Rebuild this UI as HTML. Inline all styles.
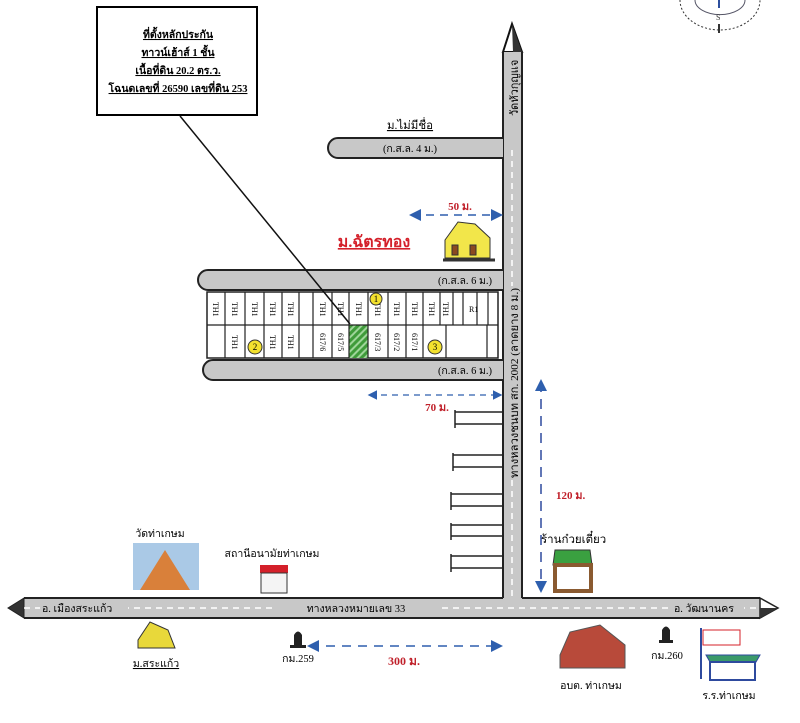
<!DOCTYPE html>
<html><head><meta charset="utf-8"><style>
html,body{margin:0;padding:0;background:#fff;}
svg{display:block;}
text{font-family:"Liberation Serif","Noto Serif CJK SC",serif;}
</style></head><body>
<svg width="800" height="723" viewBox="0 0 800 723" xmlns="http://www.w3.org/2000/svg">
<defs>
<pattern id="h" width="5" height="5" patternUnits="userSpaceOnUse" patternTransform="rotate(45)">
<rect width="5" height="5" fill="#3f9b3a"/><rect width="2" height="5" fill="#9fd59a"/></pattern>
<marker id="ab" markerWidth="8" markerHeight="8" refX="6" refY="4" orient="auto"><path d="M0,0 L8,4 L0,8 z" fill="#2e5fae"/></marker>
<marker id="as" markerWidth="8" markerHeight="8" refX="2" refY="4" orient="auto"><path d="M8,0 L0,4 L8,8 z" fill="#2e5fae"/></marker>
</defs>
<g stroke="#333" fill="none">
<path d="M680,0 A40,30 0 0 0 760,0" stroke-dasharray="2,2"/>
<path d="M695,0 A24,14 0 0 0 745,0" stroke="#556"/>
<line x1="719" y1="0" x2="719" y2="8" stroke="#2d4f9e" stroke-width="2"/>
<line x1="719" y1="24" x2="719" y2="33" stroke-width="2"/>
</g>
<text x="716" y="20" font-size="8" fill="#333">S</text>
<rect x="97" y="7" width="160" height="108" fill="#fff" stroke="#000" stroke-width="2"/>
<g font-size="10.5" font-weight="bold" text-anchor="middle" text-decoration="underline" fill="#000">
<text x="178" y="38">ที่ตั้งหลักประกัน</text>
<text x="178" y="56">ทาวน์เฮ้าส์ 1 ชั้น</text>
<text x="178" y="74">เนื้อที่ดิน 20.2 ตร.ว.</text>
<text x="178" y="92">โฉนดเลขที่ 26590 เลขที่ดิน  253</text>
</g>
<path d="M503,52 L512,24 L522,52 Z" fill="#fff" stroke="#111" stroke-width="2"/>
<path d="M512,24 L522,52 L513,52 Z" fill="#333"/>
<rect x="503" y="52" width="19" height="550" fill="#c8c8c8"/>
<line x1="503" y1="52" x2="503" y2="598" stroke="#222" stroke-width="2"/>
<line x1="522" y1="52" x2="522" y2="598" stroke="#222" stroke-width="2"/>
<line x1="512" y1="150" x2="512" y2="596" stroke="#fff" stroke-width="1.5" stroke-dasharray="6,5"/>
<rect x="505" y="58" width="15" height="60" fill="#c8c8c8"/>
<text transform="translate(518,116) rotate(-90)" font-size="11">วัดหัวกุญแจ</text>
<rect x="505" y="286" width="15" height="194" fill="#c8c8c8"/>
<text transform="translate(518,478) rotate(-90)" font-size="11" textLength="190" lengthAdjust="spacingAndGlyphs">ทางหลวงชนบท สก. 2002 (ลาดยาง 8 ม.)</text>
<path d="M503,138 L338,138 A10,10 0 0 0 338,158 L503,158" fill="#c8c8c8" stroke="#222" stroke-width="2"/>
<text x="410" y="152" font-size="10.5" text-anchor="middle">(ก.ส.ล. 4 ม.)</text>
<text x="410" y="129" font-size="11.5" text-anchor="middle" text-decoration="underline">ม.ไม่มีชื่อ</text>
<path d="M503,270 L208,270 A10,10 0 0 0 208,290 L503,290" fill="#c8c8c8" stroke="#222" stroke-width="2"/>
<text x="465" y="284" font-size="10.5" text-anchor="middle">(ก.ส.ล. 6 ม.)</text>
<path d="M503,360 L213,360 A10,10 0 0 0 213,380 L503,380" fill="#c8c8c8" stroke="#222" stroke-width="2"/>
<text x="465" y="374" font-size="10.5" text-anchor="middle">(ก.ส.ล. 6 ม.)</text>
<rect x="207" y="292" width="291" height="66" fill="#fff" stroke="#222" stroke-width="1.5"/>
<rect x="349" y="325" width="19" height="33" fill="url(#h)"/>
<g stroke="#222" stroke-width="1.2">
<line x1="207" y1="325" x2="498" y2="325"/>
<line x1="225" y1="292" x2="225" y2="358"/><line x1="245" y1="292" x2="245" y2="358"/>
<line x1="264" y1="292" x2="264" y2="358"/><line x1="282" y1="292" x2="282" y2="358"/>
<line x1="299" y1="292" x2="299" y2="358"/><line x1="313" y1="292" x2="313" y2="358"/>
<line x1="332" y1="292" x2="332" y2="358"/><line x1="349" y1="292" x2="349" y2="358"/>
<line x1="368" y1="292" x2="368" y2="358"/><line x1="388" y1="292" x2="388" y2="358"/>
<line x1="406" y1="292" x2="406" y2="358"/><line x1="423" y1="292" x2="423" y2="358"/>
<line x1="440" y1="292" x2="440" y2="325"/><line x1="453" y1="292" x2="453" y2="325"/>
<line x1="463" y1="292" x2="463" y2="325"/><line x1="477" y1="292" x2="477" y2="325"/>
<line x1="488" y1="292" x2="488" y2="325"/>
<line x1="446" y1="325" x2="446" y2="358"/><line x1="487" y1="325" x2="487" y2="358"/>
</g>
<g font-size="8">
<text transform="translate(213,302) rotate(90)">TH1</text>
<text transform="translate(232,302) rotate(90)">TH1</text>
<text transform="translate(252,302) rotate(90)">TH1</text>
<text transform="translate(270,302) rotate(90)">TH1</text>
<text transform="translate(288,302) rotate(90)">TH1</text>
<text transform="translate(320,302) rotate(90)">TH1</text>
<text transform="translate(338,302) rotate(90)">TH1</text>
<text transform="translate(356,302) rotate(90)">TH1</text>
<text transform="translate(375,302) rotate(90)">TH1</text>
<text transform="translate(394,302) rotate(90)">TH1</text>
<text transform="translate(412,302) rotate(90)">TH1</text>
<text transform="translate(429,302) rotate(90)">TH1</text>
<text transform="translate(443,302) rotate(90)">TH1</text>
<text x="469" y="312">R1</text>
<text transform="translate(232,335) rotate(90)">TH1</text>
<text transform="translate(270,335) rotate(90)">TH1</text>
<text transform="translate(288,335) rotate(90)">TH1</text>
<text transform="translate(320,333) rotate(90)">617/6</text>
<text transform="translate(338,333) rotate(90)">617/5</text>
<text transform="translate(375,333) rotate(90)">617/3</text>
<text transform="translate(394,333) rotate(90)">617/2</text>
<text transform="translate(412,333) rotate(90)">617/1</text>
</g>
<g stroke="#333" fill="#f3e12e"><circle cx="376" cy="299" r="6"/><circle cx="255" cy="347" r="7"/><circle cx="435" cy="347" r="7"/></g>
<g font-size="9" text-anchor="middle"><text x="376" y="302">1</text><text x="255" y="350">2</text><text x="435" y="350">3</text></g>
<line x1="180" y1="116" x2="350" y2="324" stroke="#111" stroke-width="1.5"/>
<text x="374" y="247" font-size="16" font-weight="bold" fill="#d4202a" text-anchor="middle" text-decoration="underline">ม.ฉัตรทอง</text>
<g stroke="#333" stroke-width="1"><path d="M445,240 L458,222 L475,224 L490,238 L490,258 L445,258 Z" fill="#f2e64a"/><path d="M443,260 L495,260" stroke-width="3"/><rect x="452" y="245" width="6" height="10" fill="#8a4a20"/><rect x="470" y="245" width="6" height="10" fill="#8a4a20"/></g>
<line x1="412" y1="215" x2="500" y2="215" stroke="#2e5fae" stroke-width="1.5" stroke-dasharray="8,6" marker-start="url(#as)" marker-end="url(#ab)"/>
<text x="460" y="210" font-size="11" fill="#c0202a" font-weight="bold" text-anchor="middle">50 ม.</text>
<line x1="370" y1="395" x2="500" y2="395" stroke="#2e5fae" stroke-width="1.2" stroke-dasharray="6,5" marker-start="url(#as)" marker-end="url(#ab)"/>
<text x="437" y="411" font-size="11" fill="#c0202a" font-weight="bold" text-anchor="middle">70 ม.</text>
<g stroke="#222" stroke-width="1.5" fill="none">
<path d="M455,412 H502 M455,424 H502 M455,410 V428"/>
<path d="M453,455 H502 M453,467 H502 M453,453 V471"/>
<path d="M451,494 H502 M451,506 H502 M451,492 V510"/>
<path d="M451,525 H502 M451,536 H502 M451,523 V540"/>
<path d="M451,556 H502 M451,568 H502 M451,554 V572"/>
</g>
<line x1="541" y1="382" x2="541" y2="590" stroke="#2e4a9e" stroke-width="1.5" stroke-dasharray="10,7" marker-start="url(#as)" marker-end="url(#ab)"/>
<text x="556" y="499" font-size="11" fill="#c0202a" font-weight="bold">120 ม.</text>
<text x="541" y="543" font-size="11.5">ร้านก๋วยเตี๋ยว</text>
<path d="M555,550 H590 L592,565 H553 Z" fill="#3aa040" stroke="#333"/>
<rect x="555" y="565" width="36" height="26" fill="#fff" stroke="#8a5a30" stroke-width="4"/>
<rect x="24" y="598" width="736" height="20" fill="#c8c8c8"/>
<line x1="24" y1="598" x2="503" y2="598" stroke="#222" stroke-width="2"/>
<line x1="522" y1="598" x2="760" y2="598" stroke="#222" stroke-width="2"/>
<line x1="24" y1="618" x2="760" y2="618" stroke="#222" stroke-width="2"/>
<path d="M24,598 L8,608 L24,618 Z" fill="#333" stroke="#222"/>
<path d="M760,598 L778,608 L760,618 Z" fill="#fff" stroke="#222" stroke-width="1.5"/>
<path d="M760,608 L778,608 L760,618 Z" fill="#333"/>
<line x1="24" y1="608" x2="760" y2="608" stroke="#fff" stroke-width="1.5" stroke-dasharray="6,5"/>
<rect x="40" y="601" width="88" height="13" fill="#c8c8c8"/>
<text x="42" y="612" font-size="10.5">อ. เมืองสระแก้ว</text>
<rect x="272" y="601" width="170" height="13" fill="#c8c8c8"/>
<text x="356" y="612" font-size="10.5" text-anchor="middle">ทางหลวงหมายเลข 33</text>
<rect x="672" y="601" width="72" height="13" fill="#c8c8c8"/>
<text x="674" y="612" font-size="10.5">อ. วัฒนานคร</text>
<text x="160" y="537" font-size="10.5" text-anchor="middle">วัดท่าเกษม</text>
<rect x="133" y="543" width="66" height="47" fill="#aac9e6"/>
<path d="M140,590 L165,550 L190,590 Z" fill="#d9803a"/>
<text x="272" y="557" font-size="10.5" text-anchor="middle">สถานีอนามัยท่าเกษม</text>
<rect x="260" y="565" width="28" height="8" fill="#d4202a"/><rect x="261" y="573" width="26" height="20" fill="#f4f4f4" stroke="#333"/>
<path d="M138,640 L150,622 L168,630 L175,648 L138,648 Z" fill="#e8d83a" stroke="#333"/>
<text x="156" y="667" font-size="10.5" text-anchor="middle" text-decoration="underline">ม.สระแก้ว</text>
<path d="M294,645 V635 Q298,628 302,635 V645 H306 V648 H290 V645 Z" fill="#222"/>
<text x="298" y="662" font-size="10.5" text-anchor="middle">กม.259</text>
<line x1="310" y1="646" x2="500" y2="646" stroke="#2e5fae" stroke-width="1.5" stroke-dasharray="9,7" marker-start="url(#as)" marker-end="url(#ab)"/>
<text x="404" y="665" font-size="12" fill="#c0202a" font-weight="bold" text-anchor="middle">300 ม.</text>
<path d="M560,655 L570,632 L600,625 L625,645 L625,668 L560,668 Z" fill="#b84a3a" stroke="#555"/>
<text x="591" y="689" font-size="10.5" text-anchor="middle">อบต. ท่าเกษม</text>
<path d="M662,640 V630 Q666,623 670,630 V640 H673 V643 H659 V640 Z" fill="#222"/>
<text x="667" y="659" font-size="10.5" text-anchor="middle">กม.260</text>
<line x1="701" y1="628" x2="701" y2="679" stroke="#2e4a9e" stroke-width="2"/>
<path d="M703,630 H740 V645 H703 Z" fill="#fff" stroke="#d4202a"/>
<path d="M706,655 H760 L756,662 H710 Z" fill="#3a9a6a" stroke="#2e4a9e"/>
<rect x="710" y="662" width="45" height="18" fill="#fff" stroke="#2e4a9e" stroke-width="2"/>
<text x="729" y="699" font-size="10.5" text-anchor="middle">ร.ร.ท่าเกษม</text>
</svg>
</body></html>
